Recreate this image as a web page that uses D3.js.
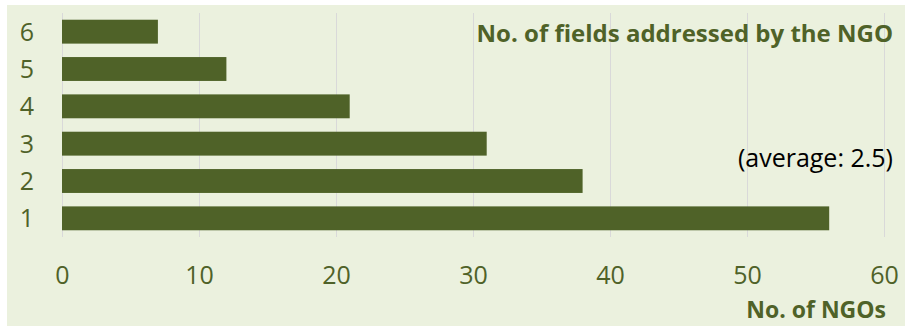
<!DOCTYPE html>
<html>
<head>
<meta charset="utf-8">
<script src="https://cdn.jsdelivr.net/npm/d3@7"></script>
<style>
  body { margin: 0; background: #fff; }
  text { font-family: "Open Sans", sans-serif; }
</style>
</head>
<body>
<svg id="chart" width="905" height="326"></svg>
<script>
// Data
var categories = ['1', '2', '3', '4', '5', '6'],
	values = [56, 38, 31, 21, 12, 7],
	xTicks = [0, 10, 20, 30, 40, 50, 60];

var titleText = 'No. of fields addressed by the NGO',
	noteText = '(average: 2.5)',
	xTitleText = 'No. of NGOs';

var green = '#4f6228',
	bg = '#ebf1de',
	grid = '#d9d9d9';

var svg = d3.select('#chart');

// Chart area background
svg.append('rect')
	.attr('x', 7).attr('y', 5)
	.attr('width', 898).attr('height', 321)
	.attr('fill', bg);

var margin = { top: 13, left: 62, right: 21, bottom: 89 },
	width = 905,
	height = 326;

var x = d3.scaleLinear()
	.domain([0, 60])
	.range([margin.left, width - margin.right]);

var y = d3.scaleBand()
	.domain(categories.slice().reverse())
	.range([margin.top, height - margin.bottom])
	.paddingInner(0.36)
	.paddingOuter(0.18);

// Grid lines
svg.append('g').selectAll('line')
	.data(xTicks)
	.enter().append('line')
	.attr('x1', function(d) { return x(d) + 0.5; })
	.attr('x2', function(d) { return x(d) + 0.5; })
	.attr('y1', margin.top)
	.attr('y2', height - margin.bottom)
	.attr('stroke', grid)
	.attr('stroke-width', 1);

// Bars
svg.append('g').selectAll('rect')
	.data(values)
	.enter().append('rect')
	.attr('x', x(0))
	.attr('y', function(d, i) { return y(categories[i]); })
	.attr('width', function(d) { return x(d) - x(0); })
	.attr('height', y.bandwidth())
	.attr('fill', green);

// X axis tick labels
var xAxis = d3.axisBottom(x).tickValues(xTicks).tickSize(0).tickPadding(0);
var gx = svg.append('g')
	.attr('transform', 'translate(0,' + 284 + ')')
	.call(xAxis);
gx.select('.domain').remove();
gx.selectAll('text')
	.attr('dy', 0)
	.attr('fill', green)
	.style('font-size', '25px')
	.style('font-family', '"Open Sans", sans-serif');

// Y axis labels
var yAxis = d3.axisLeft(y).tickSize(0).tickPadding(0);
var gy = svg.append('g')
	.attr('transform', 'translate(34,0)')
	.call(yAxis);
gy.select('.domain').remove();
gy.selectAll('text')
	.attr('dy', '0.36em')
	.attr('fill', green)
	.style('font-size', '25px')
	.style('font-family', '"Open Sans", sans-serif');

// Titles
svg.append('text')
	.attr('x', 893).attr('y', 42)
	.attr('text-anchor', 'end')
	.attr('fill', green)
	.style('font-size', '24px')
	.style('font-weight', 'bold')
	.text(titleText);

svg.append('text')
	.attr('x', 893).attr('y', 167)
	.attr('text-anchor', 'end')
	.attr('fill', '#000')
	.style('font-size', '25px')
	.text(noteText);

svg.append('text')
	.attr('x', 886).attr('y', 318)
	.attr('text-anchor', 'end')
	.attr('fill', green)
	.style('font-size', '23px')
	.style('font-weight', 'bold')
	.text(xTitleText);
</script>
</body>
</html>
